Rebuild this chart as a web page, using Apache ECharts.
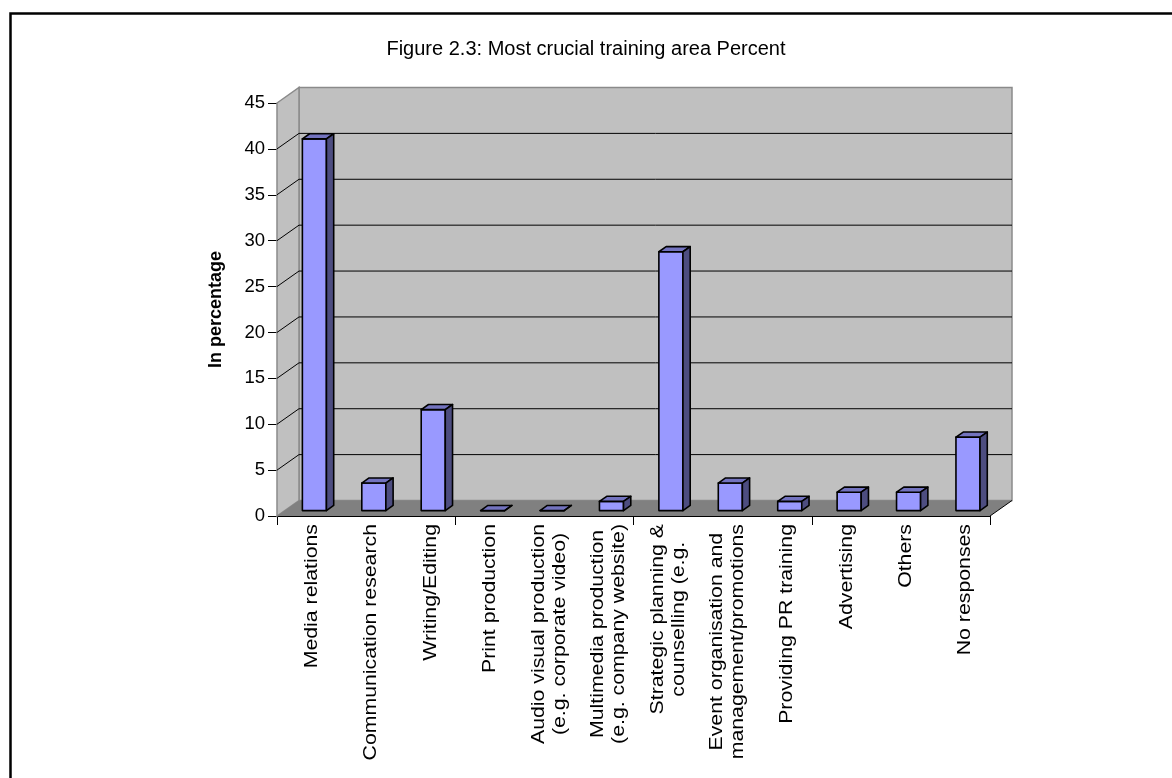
<!DOCTYPE html>
<html>
<head>
<meta charset="utf-8">
<script src="https://cdn.jsdelivr.net/npm/echarts@6/dist/echarts.min.js"></script>
<style>
  html, body { margin: 0; padding: 0; background: #fff; }
  #chart { width: 1172px; height: 778px; }
</style>
</head>
<body>
<div id="chart"></div>
<script>
// ---- data ----
const titleText = 'Figure 2.3: Most crucial training area Percent';
const categories = [
  'Media relations',
  'Communication research',
  'Writing/Editing',
  'Print production',
  'Audio visual production\n(e.g. corporate video)',
  'Multimedia production\n(e.g. company website)',
  'Strategic planning &\ncounselling (e.g.',
  'Event organisation and\nmanagement/promotions',
  'Providing PR training',
  'Advertising',
  'Others',
  'No responses'
];
const percentValues = [40.5, 3, 11, 0, 0, 1, 28.2, 3, 1, 2, 2, 8];
const yMin = 0, yMax = 45, yStep = 5;
const yAxisName = 'In percentage';

// ---- 3-D box look ----
const DEPTH_X = 22, DEPTH_Y = -15.5;      // offset of the back wall from the front plane
const BAR_FRONT = 0.35, BAR_BACK = 0.68;  // bar depth range as fraction of box depth
const BAR_WIDTH_RATIO = 0.405;
const FONT = '"Liberation Sans", Arial, sans-serif';
const LABEL_SIZE = 18.5;
const LABEL_STRETCH = 1.15;   // wide-set lettering of the category captions
const LABEL_LINE = 21;
const LABEL_SHIFT_X = 5;

const measureCtx = document.createElement('canvas').getContext('2d');
function widestLine(text) {
  measureCtx.font = LABEL_SIZE + 'px ' + FONT;
  return Math.max.apply(null, text.split('\n').map(s => measureCtx.measureText(s).width));
}

function shift(x, y, t) { return [x + DEPTH_X * t, y + DEPTH_Y * t]; }

function renderWalls(params, api) {
  const cs = params.coordSys;
  const x0 = cs.x, y0 = cs.y, w = cs.width, h = cs.height;
  const dx = DEPTH_X, dy = DEPTH_Y;
  const children = [];
  children.push({ type: 'polygon', shape: { points: [[x0 + dx, y0 + dy], [x0 + w + dx, y0 + dy], [x0 + w + dx, y0 + h + dy], [x0 + dx, y0 + h + dy]] },
    style: { fill: '#c0c0c0', stroke: '#8a8a8a', lineWidth: 1.5 } });
  children.push({ type: 'polygon', shape: { points: [[x0, y0], [x0 + dx, y0 + dy], [x0 + dx, y0 + h + dy], [x0, y0 + h]] },
    style: { fill: '#c0c0c0', stroke: '#8a8a8a', lineWidth: 1.5 } });
  children.push({ type: 'polygon', shape: { points: [[x0, y0 + h], [x0 + dx, y0 + h + dy], [x0 + w + dx, y0 + h + dy], [x0 + w, y0 + h]] },
    style: { fill: '#808080' } });
  children.push({ type: 'line', shape: { x1: x0 + w, y1: y0 + h, x2: x0 + w + dx, y2: y0 + h + dy },
    style: { stroke: '#000', lineWidth: 1 } });
  for (let v = yMin + yStep; v < yMax; v += yStep) {
    const y = api.coord([0, v])[1];
    children.push({ type: 'polyline', shape: { points: [[x0, y], [x0 + dx, y + dy], [x0 + w + dx, y + dy]] },
      style: { stroke: '#000', lineWidth: 1, fill: null } });
  }
  return { type: 'group', children };
}

function renderBar(params, api) {
  const i = api.value(0), v = api.value(1);
  const top = api.coord([i, v]);
  const base = api.coord([i, 0]);
  const half = api.size([1, 0])[0] * BAR_WIDTH_RATIO / 2;
  const xl = top[0] - half, xr = top[0] + half, yt = top[1], yb = base[1];
  const edge = { stroke: '#000', lineWidth: 1.6, lineJoin: 'round' };
  return { type: 'group', children: [
    { type: 'polygon', shape: { points: [shift(xl, yt, BAR_FRONT), shift(xr, yt, BAR_FRONT), shift(xr, yb, BAR_FRONT), shift(xl, yb, BAR_FRONT)] },
      style: Object.assign({ fill: '#9999ff' }, edge) },
    { type: 'polygon', shape: { points: [shift(xl, yt, BAR_FRONT), shift(xl, yt, BAR_BACK), shift(xr, yt, BAR_BACK), shift(xr, yt, BAR_FRONT)] },
      style: Object.assign({ fill: '#7373bf' }, edge) },
    { type: 'polygon', shape: { points: [shift(xr, yt, BAR_FRONT), shift(xr, yt, BAR_BACK), shift(xr, yb, BAR_BACK), shift(xr, yb, BAR_FRONT)] },
      style: Object.assign({ fill: '#4d4d80' }, edge) }
  ] };
}

function renderLabel(params, api) {
  const i = api.value(0);
  const base = api.coord([i, 0]);
  const text = categories[i];
  const topY = base[1] + 8;
  return { type: 'text', x: base[0] + LABEL_SHIFT_X, y: topY + widestLine(text) * LABEL_STRETCH / 2,
    rotation: Math.PI / 2, scaleX: LABEL_STRETCH,
    style: { text: text, font: LABEL_SIZE + 'px ' + FONT, fill: '#000', align: 'center', verticalAlign: 'middle', lineHeight: LABEL_LINE } };
}

const chart = echarts.init(document.getElementById('chart'), null, { renderer: 'canvas' });
chart.setOption({
  animation: false,
  backgroundColor: '#fff',
  textStyle: { fontFamily: FONT },
  title: {
    text: titleText, left: 'center', top: 34,
    textStyle: { fontSize: 20, fontWeight: 'normal', color: '#000', fontFamily: FONT }
  },
  graphic: [{
    type: 'rect', left: 8, top: 11, z: 100,
    shape: { width: 1300, height: 1000 },
    style: { fill: null, stroke: '#000', lineWidth: 2.5 }
  }],
  grid: { left: 277, right: 182, top: 103, bottom: 262 },
  xAxis: {
    type: 'category', data: categories,
    axisLine: { show: true, lineStyle: { color: '#000', width: 1 } },
    axisTick: { show: true, length: 9, lineStyle: { color: '#000' } },
    axisLabel: { show: false },
    splitLine: { show: false }
  },
  yAxis: {
    type: 'value', min: yMin, max: yMax, interval: yStep,
    name: yAxisName, nameLocation: 'middle', nameRotate: 90, nameGap: 52,
    nameTextStyle: { fontSize: 18, fontWeight: 'bold', color: '#000', fontFamily: FONT },
    axisLine: { show: true, lineStyle: { color: '#000', width: 1 } },
    axisTick: { show: true, length: 9, lineStyle: { color: '#000' } },
    axisLabel: { fontSize: 18.5, color: '#000', margin: 12, fontFamily: FONT },
    splitLine: { show: false }
  },
  series: [
    { type: 'custom', z: 1, silent: true, renderItem: renderWalls, data: [[0, 0]] },
    { type: 'custom', z: 2, renderItem: renderBar, data: percentValues.map((v, i) => [i, v]) },
    { type: 'custom', z: 3, silent: true, renderItem: renderLabel, data: categories.map((c, i) => [i, 0]) }
  ]
});
</script>
</body>
</html>
